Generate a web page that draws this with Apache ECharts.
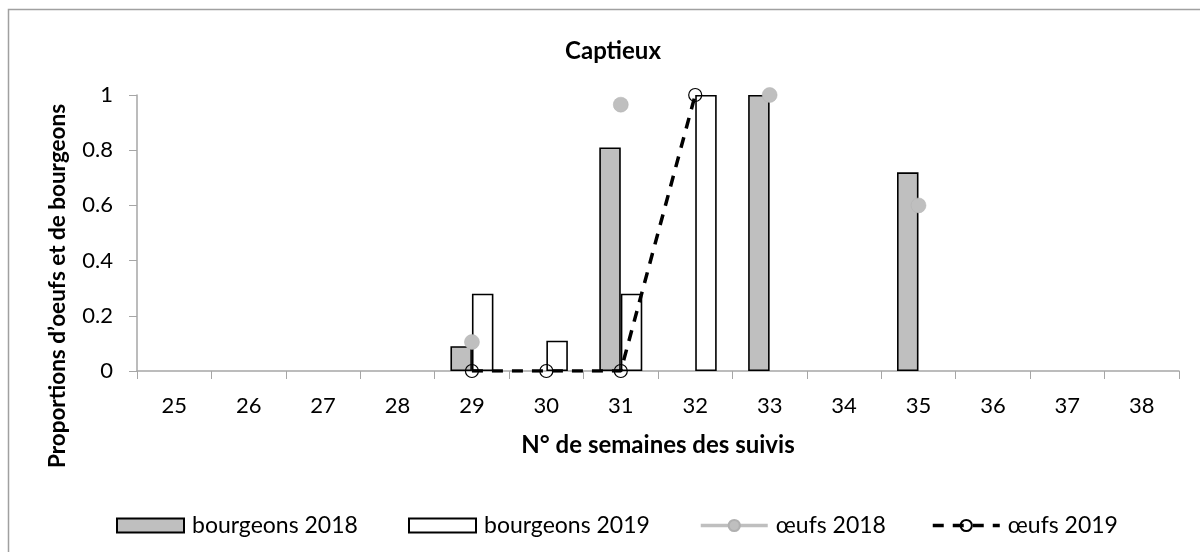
<!DOCTYPE html>
<html>
<head>
<meta charset="utf-8">
<script src="https://cdn.jsdelivr.net/npm/echarts@6/dist/echarts.min.js"></script>
<style>
  html, body { margin: 0; padding: 0; background: #fff; }
  #chart { width: 1200px; height: 552px; }
</style>
</head>
<body>
<div id="chart"></div>
<script>
// Week numbers of the surveys
const weeks = ['25', '26', '27', '28', '29', '30', '31', '32', '33', '34', '35', '36', '37', '38'];
// Proportion of buds, per week
const bourgeons2018 = [null, null, null, null, 0.09, null, 0.81, null, 1.0, null, 0.72, null, null, null];
const bourgeons2019 = [null, null, null, null, 0.28, 0.11, 0.28, 1.0, null, null, null, null, null, null];
// Proportion of eggs, per week
const oeufs2018 = [null, null, null, null, 0.105, null, 0.965, null, 1.0, null, 0.6, null, null, null];
const oeufs2019 = [null, null, null, null, 0, 0, 0, 1.0, null, null, null, null, null, null];
const yTicks = [0, 0.2, 0.4, 0.6, 0.8, 1];

const FONT = 'Lato, "Noto Sans", sans-serif';
const GREY = '#bfbfbf';
const AXIS = '#a6a6a6';

const chart = echarts.init(document.getElementById('chart'), null, { renderer: 'canvas' });

function legendAt(name, left, extra) {
  return Object.assign({
    data: [{ name: name }],
    left: left,
    top: 509,
    itemWidth: 67,
    itemHeight: 14,
    itemGap: 0,
    textStyle: { fontFamily: FONT, fontSize: 23, color: '#000', padding: [0, 0, 0, 3] }
  }, extra || {});
}

chart.setOption({
  animation: false,
  backgroundColor: '#fff',
  title: {
    text: 'Captieux',
    left: 608,
    top: 34,
    textAlign: 'center',
    textStyle: { fontFamily: FONT, fontSize: 24, fontWeight: 'bold', color: '#000' }
  },
  legend: [
    legendAt('bourgeons 2018', 111, { icon: 'rect' }),
    legendAt('bourgeons 2019', 403, { icon: 'rect' }),
    legendAt('œufs 2018', 694, { lineStyle: { width: 3.5 } }),
    legendAt('œufs 2019', 926, { lineStyle: { width: 3.5 } })
  ],
  grid: { left: 137, right: 21, top: 95, bottom: 181, containLabel: false },
  xAxis: {
    type: 'category',
    data: weeks,
    name: 'N° de semaines des suivis',
    nameLocation: 'middle',
    nameGap: 62,
    nameTextStyle: { fontFamily: FONT, fontSize: 24, fontWeight: 'bold', color: '#000' },
    axisLine: { lineStyle: { color: AXIS, width: 1.5 } },
    axisTick: { show: true, length: 8, lineStyle: { color: AXIS, width: 1 } },
    axisLabel: { fontFamily: FONT, fontSize: 22, color: '#000', margin: 24 }
  },
  yAxis: {
    type: 'value',
    min: 0,
    max: 1,
    interval: 0.2,
    axisLine: { show: true, lineStyle: { color: AXIS, width: 1.5 } },
    axisTick: { show: true, length: 8, lineStyle: { color: AXIS, width: 1 } },
    splitLine: { show: false },
    axisLabel: {
      fontFamily: FONT, fontSize: 22, color: '#000', margin: 24,
      formatter: v => String(yTicks.find(t => Math.abs(t - v) < 1e-9) ?? v)
    }
  },
  graphic: [
    {
      type: 'rect',
      silent: true,
      shape: { x: 8.5, y: 9.5, width: 1200, height: 560 },
      style: { fill: 'none', stroke: '#a0a0a0', lineWidth: 1.5 },
      z: -10
    },
    {
      type: 'text',
      x: 58,
      y: 286,
      rotation: Math.PI / 2,
      style: {
        text: 'Proportions d\u2019oeufs et de bourgeons',
        fontFamily: FONT, fontSize: 22.5, fontWeight: 'bold', fill: '#000',
        align: 'center', verticalAlign: 'middle'
      }
    }
  ],
  series: [
    {
      name: 'bourgeons 2018',
      type: 'bar',
      data: bourgeons2018,
      barWidth: 21.5,
      barGap: '0%',
      itemStyle: { color: GREY, borderColor: '#000', borderWidth: 1.6 },
      z: 2
    },
    {
      name: 'bourgeons 2019',
      type: 'bar',
      data: bourgeons2019,
      barWidth: 21.5,
      barGap: '0%',
      itemStyle: { color: '#fff', borderColor: '#000', borderWidth: 1.6 },
      z: 2
    },
    {
      name: 'œufs 2018',
      type: 'line',
      data: oeufs2018,
      connectNulls: false,
      symbol: 'circle',
      symbolSize: 15,
      showAllSymbol: true,
      itemStyle: { color: GREY, borderColor: '#b0b0b0', borderWidth: 0.5 },
      lineStyle: { color: GREY, width: 3.5 },
      z: 4
    },
    {
      name: 'œufs 2019',
      type: 'line',
      data: oeufs2019,
      symbol: 'circle',
      symbolSize: 13,
      showAllSymbol: true,
      itemStyle: { color: 'rgba(255,255,255,0)', borderColor: '#000', borderWidth: 1.2 },
      lineStyle: { color: '#000', width: 3.5, type: [11, 9] },
      z: 5
    }
  ]
});
</script>
</body>
</html>
